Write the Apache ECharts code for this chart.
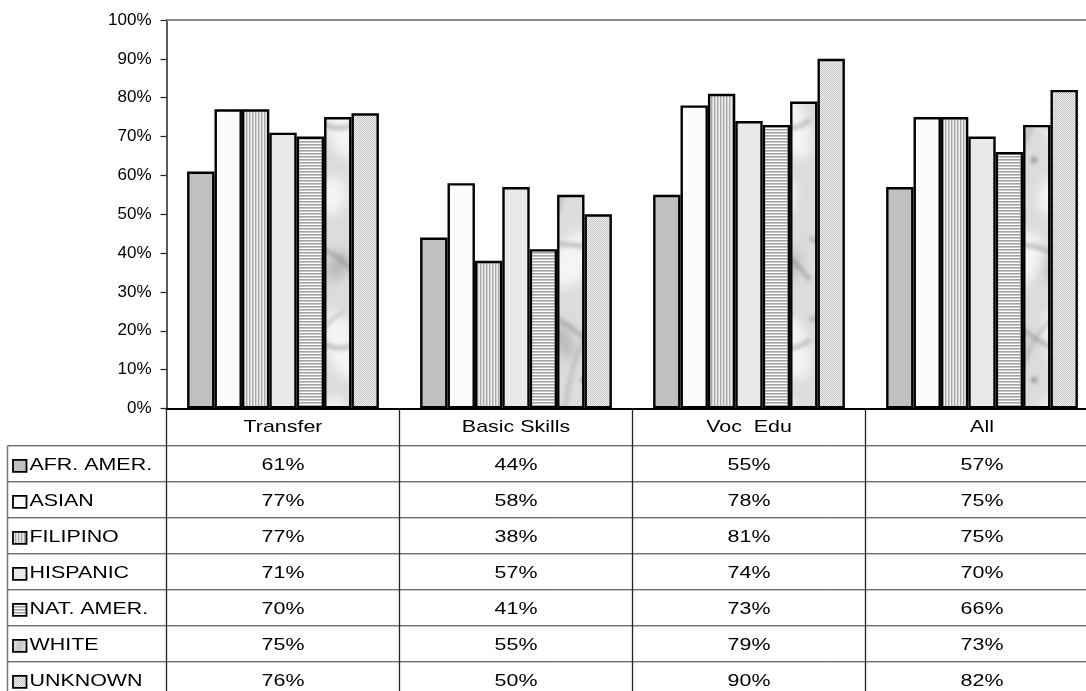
<!DOCTYPE html>
<html>
<head>
<meta charset="utf-8">
<script src="https://cdn.jsdelivr.net/npm/echarts@6/dist/echarts.min.js"></script>
<style>
  html, body { margin: 0; padding: 0; background: #fff; overflow: hidden; }
  #chart { width: 1100px; height: 691px; }
</style>
</head>
<body>
<div id="chart"></div>
<script>
// Program categories and completion rates (%) by ethnic group
const categories = ['Transfer', 'Basic Skills', 'Voc  Edu', 'All'];
const groups = ['AFR. AMER.', 'ASIAN', 'FILIPINO', 'HISPANIC', 'NAT. AMER.', 'WHITE', 'UNKNOWN'];
const afrAmer  = [61, 44, 55, 57];
const asian    = [77, 58, 78, 75];
const filipino = [77, 38, 81, 75];
const hispanic = [71, 57, 74, 70];
const natAmer  = [70, 41, 73, 66];
const white    = [75, 55, 79, 73];
const unknown  = [76, 50, 90, 82];
const yMin = 0, yMax = 100, yStep = 10;

const values = [afrAmer, asian, filipino, hispanic, natAmer, white, unknown];

// ---- fill textures ----
function tile(w, h, draw) {
  const c = document.createElement('canvas');
  c.width = w; c.height = h;
  draw(c.getContext('2d'), w, h);
  return { image: c, repeat: 'repeat' };
}
function px(g, x, y, col) { g.fillStyle = col; g.fillRect(x, y, 1, 1); }

// draws a shape nine times so that the tile wraps without seams
function wrapped(g, w, h, fn) {
  for (const dx of [-w, 0, w]) for (const dy of [-h, 0, h]) {
    g.save(); g.translate(dx, dy); fn(g); g.restore();
  }
}

function marble(g, w, h) {
  g.fillStyle = '#dcdcdc'; g.fillRect(0, 0, w, h);
  g.filter = 'blur(6px)';
  wrapped(g, w, h, c => {
    c.fillStyle = 'rgba(246,246,246,0.95)';
    c.beginPath(); c.ellipse(32, 40, 18, 30, 0.4, 0, Math.PI * 2); c.fill();
    c.beginPath(); c.ellipse(72, 125, 16, 36, -0.3, 0, Math.PI * 2); c.fill();
    c.beginPath(); c.ellipse(62, 196, 14, 20, 0.2, 0, Math.PI * 2); c.fill();
    c.fillStyle = 'rgba(175,175,175,0.8)';
    c.beginPath(); c.ellipse(68, 46, 10, 16, 0.6, 0, Math.PI * 2); c.fill();
    c.beginPath(); c.ellipse(22, 120, 9, 20, -0.5, 0, Math.PI * 2); c.fill();
  });
  g.filter = 'blur(2px)';
  wrapped(g, w, h, c => {
    c.strokeStyle = 'rgba(130,130,130,0.6)'; c.lineWidth = 3.5;
    c.beginPath(); c.moveTo(0, 18); c.bezierCurveTo(25, 34, 50, 8, 90, 60); c.stroke();
    c.beginPath(); c.moveTo(0, 100); c.bezierCurveTo(30, 86, 52, 150, 90, 120); c.stroke();
    c.lineWidth = 2.5; c.strokeStyle = 'rgba(140,140,140,0.55)';
    c.beginPath(); c.moveTo(14, 220); c.bezierCurveTo(34, 180, 22, 120, 74, 92); c.stroke();
    c.fillStyle = 'rgba(105,105,105,0.7)';
    c.beginPath(); c.arc(44, 160, 3, 0, Math.PI * 2); c.fill();
  });
}

const fills = [
  '#c0c0c0',
  tile(4, 4, g => { g.fillStyle = '#ffffff'; g.fillRect(0, 0, 4, 4); px(g, 0, 0, '#ebebeb'); px(g, 2, 2, '#ebebeb'); }),
  tile(3, 1, g => { px(g, 0, 0, '#a9a9a9'); px(g, 1, 0, '#d2d2d2'); px(g, 2, 0, '#ededed'); }),
  tile(4, 4, g => { g.fillStyle = '#ececec'; g.fillRect(0, 0, 4, 4); for (let i = 0; i < 4; i++) px(g, i, 3 - i, '#dddddd'); }),
  tile(1, 3, g => { px(g, 0, 0, '#a4a4a4'); px(g, 0, 1, '#c6c6c6'); px(g, 0, 2, '#fbfbfb'); }),
  tile(90, 220, marble),
  tile(2, 2, g => { px(g, 0, 0, '#c2c2c2'); px(g, 1, 1, '#c2c2c2'); px(g, 1, 0, '#f2f2f2'); px(g, 0, 1, '#f2f2f2'); })
];

const FONT = '"Liberation Sans", Arial, sans-serif';
const chart = echarts.init(document.getElementById('chart'), null, { renderer: 'canvas' });

chart.setOption({
  animation: false,
  backgroundColor: '#ffffff',
  grid: { left: 166.5, top: 20, right: 1.5, bottom: 282.5, containLabel: false },
  xAxis: [
    {
      type: 'category', data: categories, position: 'bottom',
      axisLine: { show: true, lineStyle: { color: '#000', width: 2 } },
      axisTick: { show: false }, axisLabel: { show: false }, splitLine: { show: false }
    },
    {
      type: 'category', data: categories, position: 'top',
      axisLine: { show: true, lineStyle: { color: '#888', width: 2 } },
      axisTick: { show: false }, axisLabel: { show: false }, splitLine: { show: false }
    }
  ],
  yAxis: {
    type: 'value', min: yMin, max: yMax, interval: yStep,
    axisLine: { show: true, lineStyle: { color: '#222', width: 1.5 } },
    axisTick: { show: true, inside: false, length: 6, lineStyle: { color: '#222', width: 1.2 } },
    axisLabel: { formatter: '{value}%', color: '#000', fontSize: 17, fontFamily: FONT, margin: 15 },
    splitLine: { show: false }
  },
  series: groups.map((name, i) => ({
    name, type: 'bar', xAxisIndex: 0, data: values[i],
    barGap: '0%', barCategoryGap: '17.7%',
    itemStyle: { color: fills[i], borderColor: '#000', borderWidth: 2.4 }
  }))
});

// ---- data table under the plot, laid out on the category axis ----
function drawTable() {
  const c0 = chart.convertToPixel({ xAxisIndex: 0 }, 0);
  const c1 = chart.convertToPixel({ xAxisIndex: 0 }, 1);
  const band = c1 - c0;
  const y0 = chart.convertToPixel({ yAxisIndex: 0 }, yMin);
  const headerH = 37.3, rowH = 36;
  const tableLeft = 7.5, W = 1100, H = 691;
  const stretch = 1.26;
  const els = [];
  const line = (x1, y1, x2, y2, stroke, lw) =>
    els.push({ type: 'line', silent: true, z: 10, shape: { x1, y1, x2, y2 }, style: { stroke, lineWidth: lw } });
  const text = (str, x, y, align) =>
    els.push({
      type: 'text', silent: true, z: 11, x, y, scaleX: stretch,
      style: { text: str, fontSize: 17, fontFamily: FONT, fill: '#000',
               align, verticalAlign: 'middle', textAlign: align, textVerticalAlign: 'middle' }
    });

  const bodyTop = y0 + headerH;
  // horizontal rules
  for (let r = 0; r <= groups.length; r++) {
    const y = bodyTop + r * rowH;
    line(tableLeft, y, W, y, '#333', 1);
  }
  // vertical rules
  line(tableLeft, bodyTop, tableLeft, H, '#777', 1.5);
  for (let k = 0; k <= categories.length; k++) {
    const x = c0 - band / 2 + k * band;
    line(x, y0, x, H, '#222', 1.3);
  }
  // header
  categories.forEach((cat, k) => {
    const cx = chart.convertToPixel({ xAxisIndex: 0 }, k);
    text(cat, cx, y0 + headerH / 2 + 0.5, 'center');
  });
  // rows with legend keys
  groups.forEach((g, r) => {
    const cy = bodyTop + r * rowH + rowH / 2 + 2;
    els.push({
      type: 'rect', silent: true, z: 11,
      shape: { x: 13, y: cy - 6, width: 13.5, height: 12 },
      style: { fill: fills[r], stroke: '#000', lineWidth: 1.8 }
    });
    text(g, 29.5, cy, 'left');
    values[r].forEach((v, k) => {
      const cx = chart.convertToPixel({ xAxisIndex: 0 }, k);
      text(v + '%', cx, cy, 'center');
    });
  });
  chart.setOption({ graphic: { elements: els } });
}
drawTable();
</script>
</body>
</html>
